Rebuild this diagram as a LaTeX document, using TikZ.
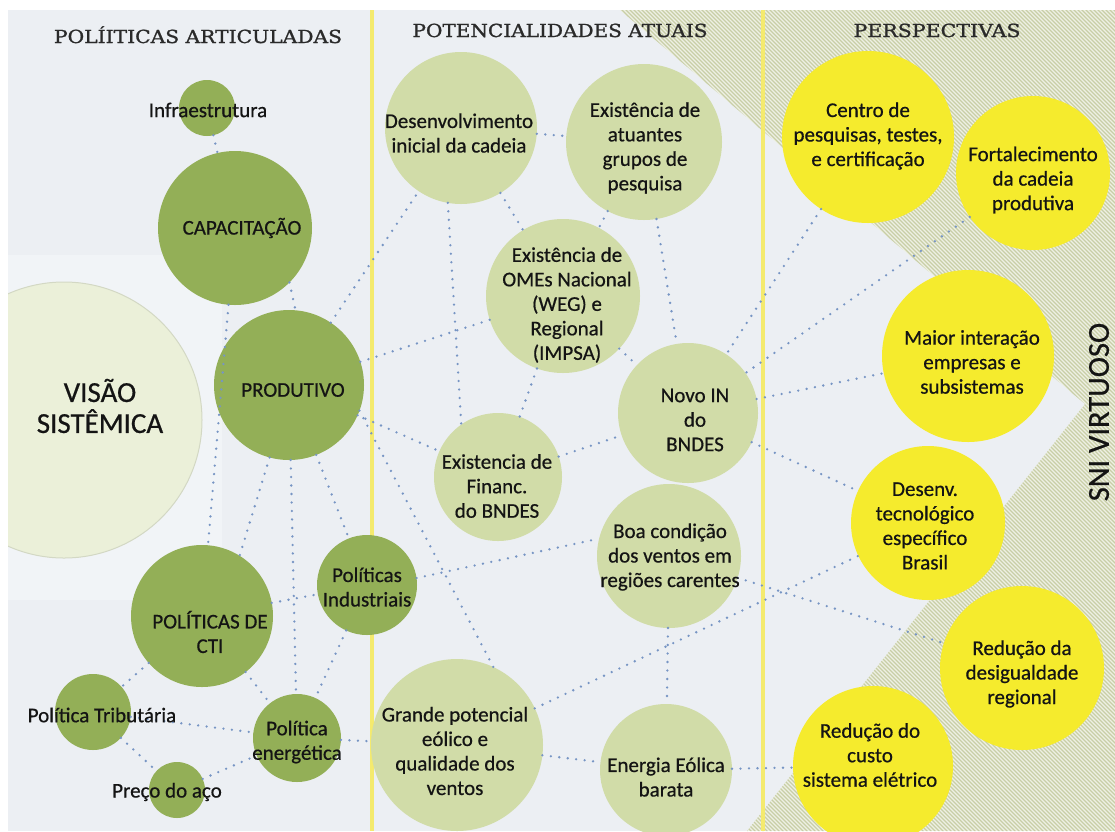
\documentclass[tikz,border=0pt]{standalone}
\usepackage{fontspec}
\usepackage{graphicx}
\setmainfont{Carlito}[FakeBold=0.6]
\newfontfamily\headfont{DejaVu Serif}[FakeBold=1.2]
\definecolor{dgc}{HTML}{93AF57}
\definecolor{lgc}{HTML}{D1DCA8}
\definecolor{ylc}{HTML}{F5EB2D}
\definecolor{visc}{HTML}{EBF0D9}
\definecolor{visd}{HTML}{D3D8C4}
\definecolor{dotc}{HTML}{7795C4}
\definecolor{ylinec}{HTML}{F4EA6E}
\definecolor{hatbase}{HTML}{EEF0E4}
\definecolor{hatc}{HTML}{C8CEA6}
\definecolor{bgc}{HTML}{ECEFF3}
\definecolor{plainc}{HTML}{F1F4F7}
\definecolor{txc}{HTML}{141414}
\definecolor{hdc}{HTML}{2A2A2A}
\begin{document}
\begin{tikzpicture}[x=1pt,y=-1pt,
  bub/.style={circle,inner sep=0pt,outer sep=0pt,draw=none},
  dg/.style={bub,fill=dgc},
  lg/.style={bub,fill=lgc},
  yl/.style={bub,fill=ylc},
  txt/.style={align=center,inner sep=0pt,text=txc,font=\fontsize{21}{24.5}\selectfont},
  conn/.style={draw=dotc,line width=2.6pt,line cap=round,dash pattern=on 0pt off 8.5pt},
  hdr/.style={anchor=base,inner sep=0pt,text=hdc},
  hatchline/.style={draw=hatc,line width=1.1pt}]
\useasboundingbox (0,0) rectangle (1115,831);
\fill[white] (0,0) rectangle (1115,831);
\begin{scope}
\clip (8,10) rectangle (1115,831);
% backgrounds
\fill[bgc] (8,10) rectangle (1115,831);
\fill[plainc] (8,255) rectangle (222,600);
\begin{scope}
\clip (620,10) -- (1115,10) -- (1115,831) -- (747,831) -- (1085,404) -- cycle;
\fill[hatbase] (600,0) rectangle (1115,831);
\foreach \i in {-240,-236,...,1112} {
  \draw[hatchline] (\i,0) -- ++(840,840);
}
\end{scope}
% separators
\fill[ylinec] (369.5,10) rectangle (373.5,831);
\fill[ylinec] (760.5,10) rectangle (764.5,831);
% headers
\node[hdr] (h1) at (198,43) {\resizebox{288pt}{\height}{\headfont\fontsize{18}{18}\selectfont POLÍITICAS ARTICULADAS}};
\node[hdr] (h2) at (560,37) {\resizebox{295pt}{\height}{\headfont\fontsize{18}{18}\selectfont POTENCIALIDADES ATUAIS}};
\node[hdr] (h3) at (937,37) {\resizebox{167pt}{\height}{\headfont\fontsize{18}{18}\selectfont PERSPECTIVAS}};
% big circle
\node[bub,fill=visc,draw=visd,line width=1pt,minimum size=276pt] (visao) at (64,420) {};
% dark green
\node[dg,minimum size=56pt] (infra) at (207,108) {};
\node[dg,minimum size=154pt] (capac) at (235,228) {};
\node[dg,minimum size=150pt] (produtivo) at (289,385) {};
\node[dg,minimum size=142pt] (cti) at (202,616) {};
\node[dg,minimum size=100pt] (polind) at (367,585) {};
\node[dg,minimum size=76pt] (trib) at (93,712) {};
\node[dg,minimum size=88pt] (energ) at (297,738) {};
\node[dg,minimum size=56pt] (aco) at (177,790) {};
% light green
\node[lg,minimum size=152pt] (desenv) at (461,128) {};
\node[lg,minimum size=156pt] (atuantes) at (644,142) {};
\node[lg,minimum size=154pt] (omes) at (563,296) {};
\node[lg,minimum size=128pt] (financ) at (498,477) {};
\node[lg,minimum size=140pt] (novo) at (688,413) {};
\node[lg,minimum size=144pt] (boa) at (669,556) {};
\node[lg,minimum size=172pt] (grande) at (457,745) {};
\node[lg,minimum size=132pt] (energia) at (666,770) {};
% yellow
\node[yl,minimum size=172pt] (centro) at (868,137) {};
\node[yl,minimum size=154pt] (fortal) at (1033,173) {};
\node[yl,minimum size=172pt] (maior) at (968,356) {};
\node[yl,minimum size=154pt] (desenvtec) at (928,523) {};
\node[yl,minimum size=164pt] (desig) at (1022,668) {};
\node[yl,minimum size=160pt] (custo) at (873,766) {};
% connectors
\draw[conn] (infra) -- (capac);
\draw[conn] (capac.-45) -- (produtivo.85);
\draw[conn] (capac) -- (cti);
\draw[conn] (produtivo.-105) -- (cti.58);
\draw[conn] (produtivo) -- (energ);
\draw[conn] (cti) -- (energ);
\draw[conn] (cti) -- (polind);
\draw[conn] (produtivo) -- (polind);
\draw[conn] (polind) -- (energ);
\draw[conn] (cti) -- (trib);
\draw[conn] (trib) -- (energ);
\draw[conn] (trib) -- (aco);
\draw[conn] (aco) -- (energ);
\draw[conn] (energ) -- (grande);
\draw[conn] (polind.8) -- (boa.166);
\draw[conn] (produtivo.-20) -- (grande.65);
\draw[conn] (produtivo) -- (financ);
\draw[conn] (produtivo) -- (omes);
\draw[conn] (produtivo) -- (desenv);
\draw[conn] (desenv) -- (atuantes);
\draw[conn] (desenv.-100) -- (financ.125);
\draw[conn] (desenv) -- (omes);
\draw[conn] (atuantes) -- (omes);
\draw[conn] (atuantes) -- (novo);
\draw[conn] (omes) -- (financ);
\draw[conn] (omes) -- (novo);
\draw[conn] (financ) -- (novo);
\draw[conn] (boa) -- (energia);
\draw[conn] (grande) -- (energia);
\draw[conn] (centro) -- (novo);
\draw[conn] (fortal) -- (novo);
\draw[conn] (novo) -- (maior);
\draw[conn] (novo) -- (desenvtec);
\draw[conn] (boa) -- (desig);
\draw[conn] (grande) -- (desenvtec);
\draw[conn] (energia) -- (custo);
% texts
\node[txt,font=\fontsize{29}{31}\selectfont] (visaoT) at (100,406) {VISÃO\\SISTÊMICA};
\node[txt] (infraT) at (208,110) {Infraestrutura};
\node[txt] (capacT) at (242,228) {CAPACITAÇÃO};
\node[txt] (prodT) at (293,390) {PRODUTIVO};
\node[txt] (ctiT) at (210,632) {POLÍTICAS DE\\CTI};
\node[txt] (polindT) at (367,587) {Políticas\\Industriais};
\node[txt] (tribT) at (102,715) {Política Tributária};
\node[txt] (energT) at (297,742) {Política\\energética};
\node[txt] (acoT) at (167,792) {Preço do aço};
\node[txt] (desenvT) at (459,133) {Desenvolvimento\\inicial da cadeia};
\node[txt] (atuT) at (645,148) {Existência de\\atuantes\\grupos de\\pesquisa};
\node[txt] (omesT) at (567,305) {Existência de\\OMEs Nacional\\(WEG) e\\Regional\\(IMPSA)};
\node[txt] (financT) at (497,486) {Existencia de\\Financ.\\do BNDES};
\node[txt] (novoT) at (695,420) {Novo IN\\do\\BNDES};
\node[txt] (boaT) at (670,557) {Boa condição\\dos ventos em\\regiões carentes};
\node[txt] (grandeT) at (455,751) {Grande potencial\\eólico e\\qualidade dos\\ventos};
\node[txt] (energiaT) at (666,777) {Energia Eólica\\barata};
\node[txt] (centroT) at (868,136) {Centro de\\pesquisas, testes,\\e certificação};
\node[txt] (fortalT) at (1033,180) {Fortalecimento\\da cadeia\\produtiva};
\node[txt] (maiorT) at (972,362) {Maior interação\\empresas e\\subsistemas};
\node[txt] (desenvtecT) at (925,526) {Desenv.\\tecnológico\\específico\\Brasil};
\node[txt] (desigT) at (1022,674) {Redução da\\desigualdade\\regional};
\node[txt] (custoT) at (870,755) {Redução do\\custo\\sistema elétrico};
\node[txt,rotate=90,font=\fontsize{30.5}{32}\selectfont] (sniT) at (1099,412) {SNI VIRTUOSO};
\end{scope}
\end{tikzpicture}
\end{document}
